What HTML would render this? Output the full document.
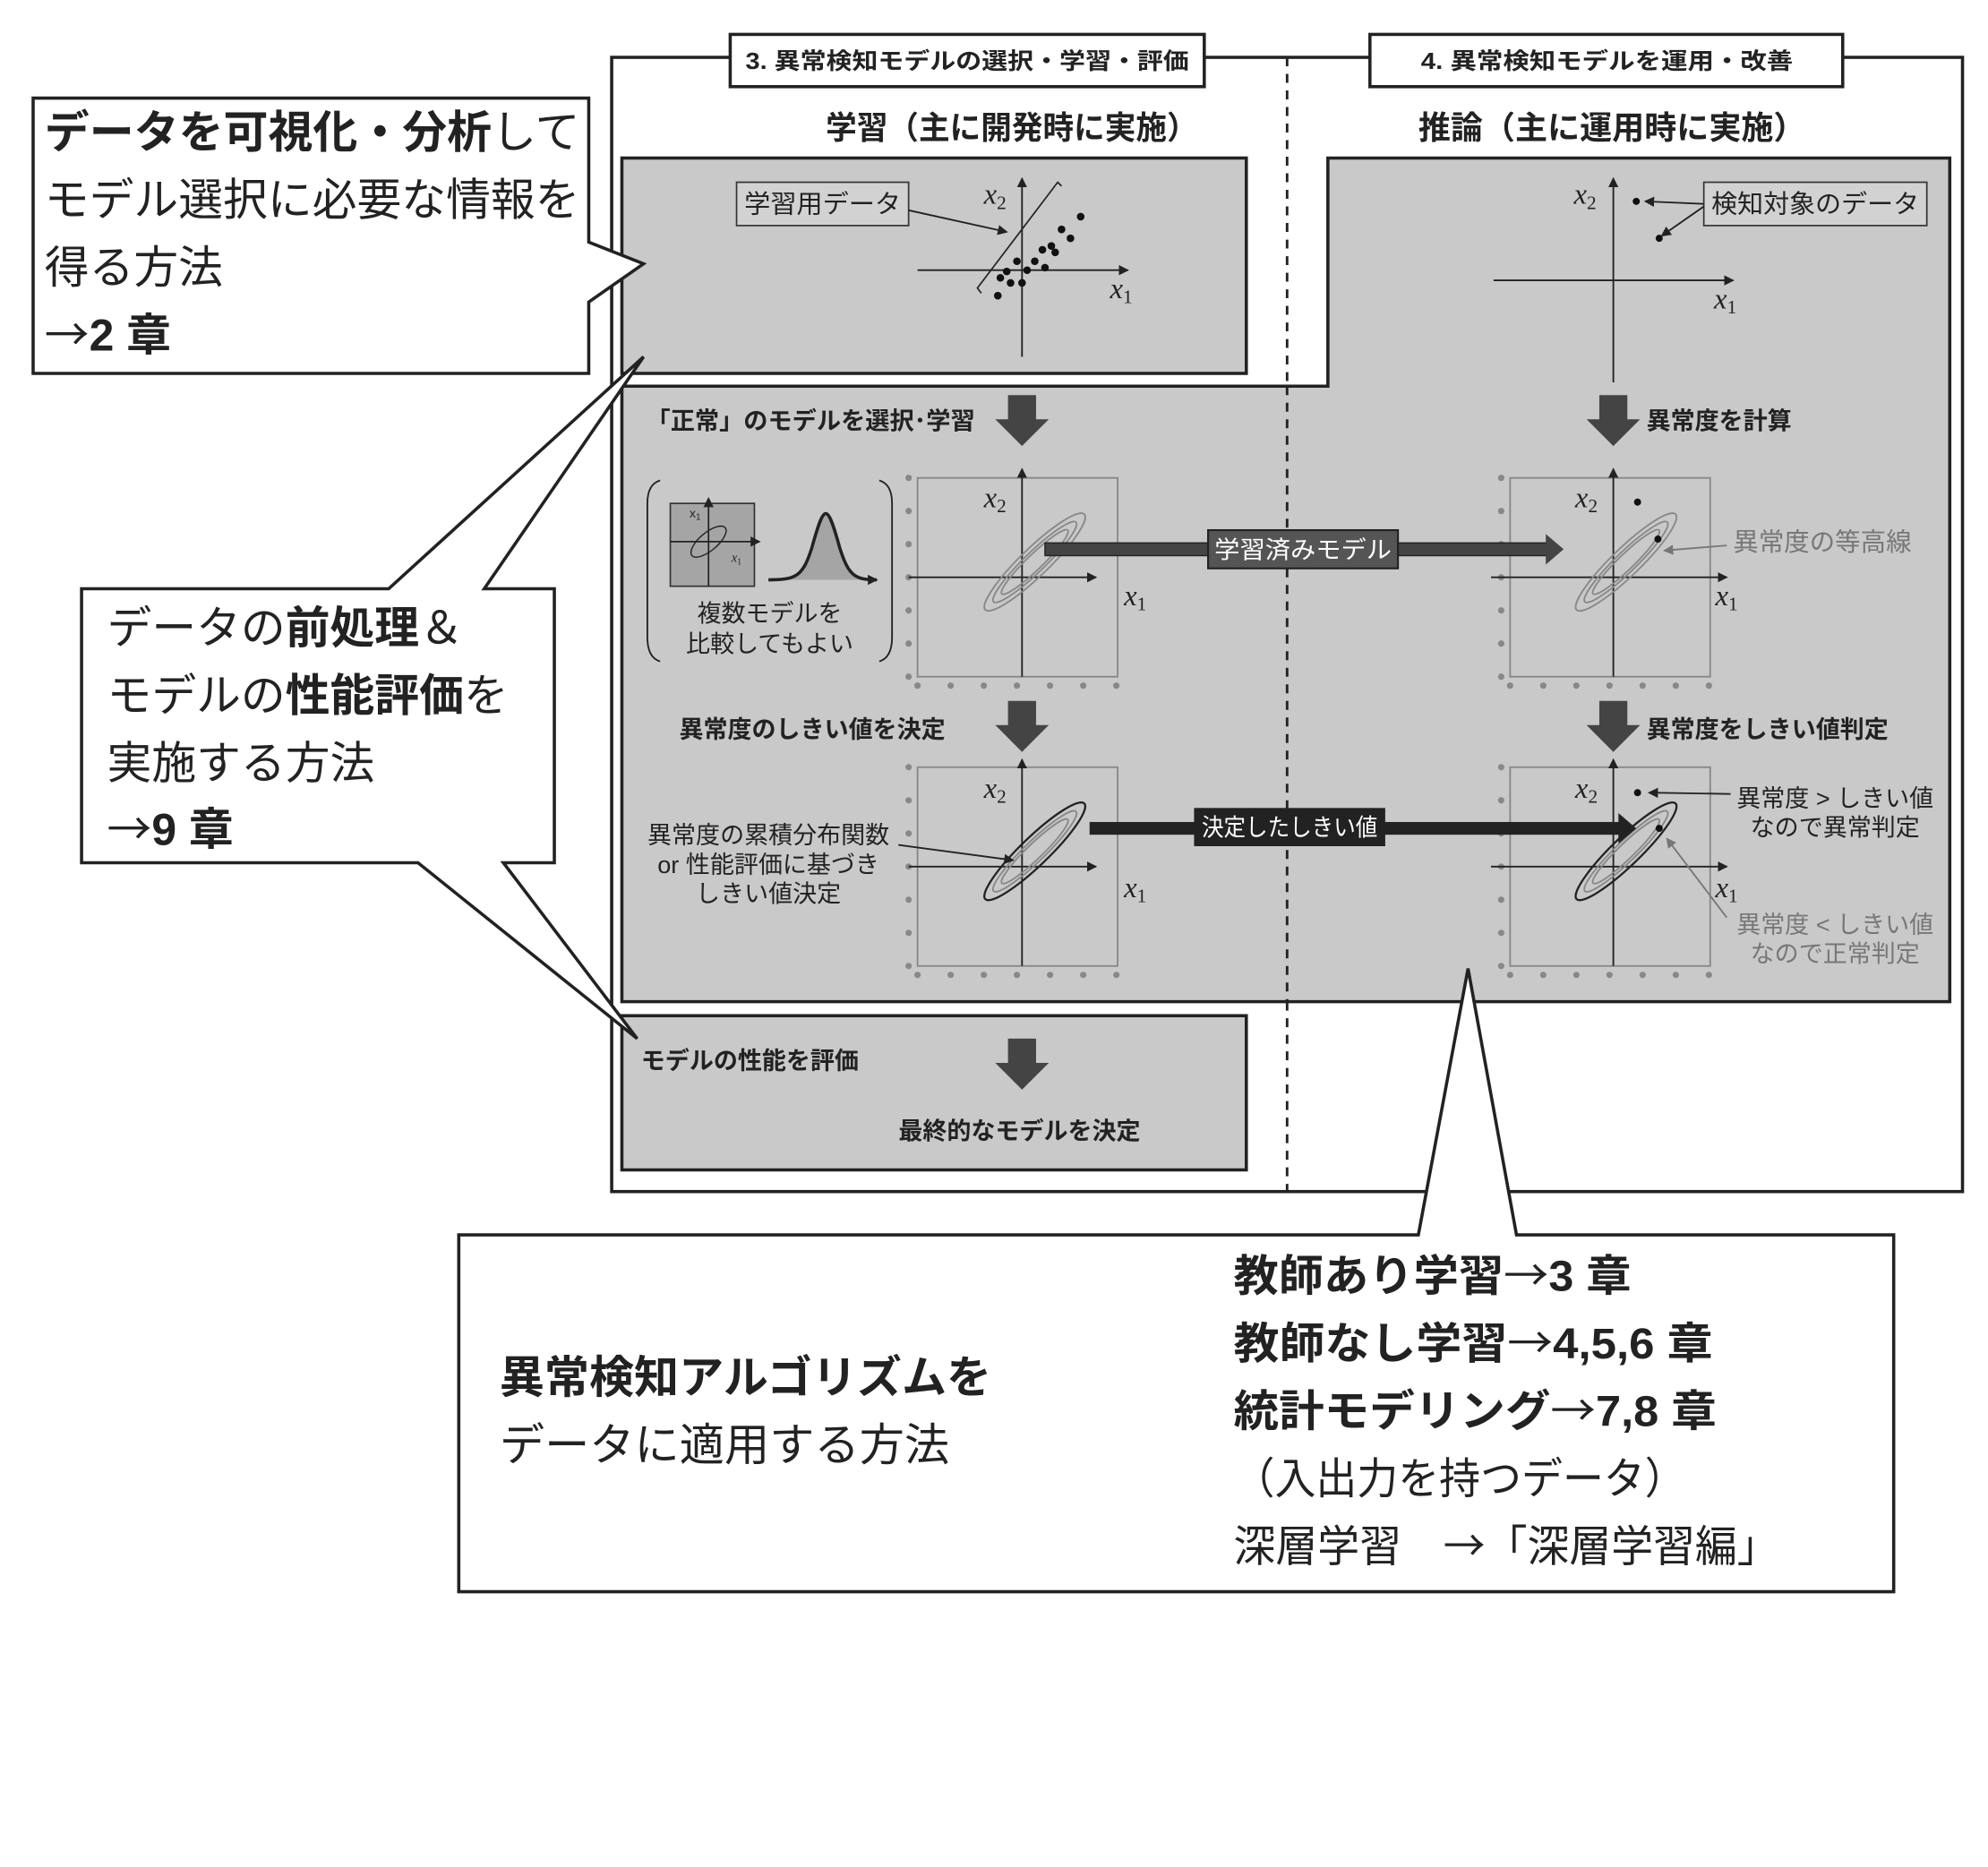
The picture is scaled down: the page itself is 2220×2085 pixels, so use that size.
<!DOCTYPE html>
<html><head><meta charset="utf-8"><style>
html,body{margin:0;padding:0;background:#fff}
svg{display:block}
text{font-family:"Liberation Sans","Noto Sans CJK JP",sans-serif;fill:#222}
.b{font-weight:bold}
.m{font-family:"Liberation Serif","DejaVu Serif",serif;font-style:italic}
.ar{font-family:"Noto Sans CJK JP",sans-serif}
</style></head><body>
<svg width="2220" height="2085" viewBox="0 0 1560 1465" preserveAspectRatio="none" xmlns="http://www.w3.org/2000/svg">
<defs>
<marker id="ah" markerWidth="8" markerHeight="8" refX="7" refY="4" orient="auto" markerUnits="userSpaceOnUse"><path d="M0,0 L8,4 L0,8 z" fill="#222"/></marker>
<marker id="ahg" markerWidth="8" markerHeight="8" refX="7" refY="4" orient="auto" markerUnits="userSpaceOnUse"><path d="M0,0 L8,4 L0,8 z" fill="#777"/></marker>
<g id="dots" fill="#888">
<circle cx="-7" cy="0" r="2.5"/><circle cx="-7" cy="26" r="2.5"/><circle cx="-7" cy="52" r="2.5"/><circle cx="-7" cy="78" r="2.5"/><circle cx="-7" cy="104" r="2.5"/><circle cx="-7" cy="130" r="2.5"/><circle cx="-7" cy="156" r="2.5"/>
<circle cx="0" cy="163" r="2.5"/><circle cx="26" cy="163" r="2.5"/><circle cx="52" cy="163" r="2.5"/><circle cx="78" cy="163" r="2.5"/><circle cx="104" cy="163" r="2.5"/><circle cx="130" cy="163" r="2.5"/><circle cx="156" cy="163" r="2.5"/>
</g>
</defs>

<rect x="480" y="45" width="1060" height="890" fill="#fff" stroke="#222" stroke-width="2.5"/>
<line x1="1010" y1="45" x2="1010" y2="935" stroke="#222" stroke-width="2" stroke-dasharray="7,6"/>
<rect x="573" y="27" width="372" height="41" fill="#fff" stroke="#222" stroke-width="2.5"/>
<text x="585" y="54" font-size="18" class="b" textLength="348" lengthAdjust="spacingAndGlyphs">3. 異常検知モデルの選択・学習・評価</text>
<rect x="1075" y="27" width="371" height="41" fill="#fff" stroke="#222" stroke-width="2.5"/>
<text x="1115" y="54" font-size="18" class="b" textLength="292" lengthAdjust="spacingAndGlyphs">4. 異常検知モデルを運用・改善</text>

<text x="648" y="109" font-size="25" class="b" textLength="292" lengthAdjust="spacingAndGlyphs">学習（主に開発時に実施）</text>
<text x="1113" y="109" font-size="25" class="b" textLength="304" lengthAdjust="spacingAndGlyphs">推論（主に運用時に実施）</text>

<path d="M1042,124 L1530,124 L1530,786 L488,786 L488,303 L1042,303 Z" fill="#c9c9c9" stroke="#222" stroke-width="2.5"/>
<line x1="1010" y1="303" x2="1010" y2="786" stroke="#222" stroke-width="2" stroke-dasharray="7,6"/>
<rect x="488" y="124" width="490" height="169" fill="#c9c9c9" stroke="#222" stroke-width="2.5"/>
<rect x="578" y="143" width="135" height="34" fill="#d2d2d2" stroke="#333" stroke-width="1.2"/>
<text x="584" y="167" font-size="20" textLength="123" lengthAdjust="spacingAndGlyphs">学習用データ</text>
<line x1="713" y1="165" x2="790" y2="182" stroke="#222" stroke-width="1.3" marker-end="url(#ah)"/>
<line x1="720" y1="212" x2="885" y2="212" stroke="#222" stroke-width="1.3" marker-end="url(#ah)"/>
<line x1="802" y1="280" x2="802" y2="140" stroke="#222" stroke-width="1.3" marker-end="url(#ah)"/>
<text x="772" y="160" font-size="23" class="m">x<tspan font-size="15" dy="4" font-style="normal">2</tspan></text>
<text x="871" y="234" font-size="23" class="m">x<tspan font-size="15" dy="4" font-style="normal">1</tspan></text>
<path d="M770,230 L767,226 L830,143 L833,146" fill="none" stroke="#222" stroke-width="1.2"/>
<g fill="#111">
<circle cx="848" cy="170" r="3"/><circle cx="833" cy="180" r="3"/><circle cx="840" cy="187" r="3"/><circle cx="825" cy="193" r="3"/><circle cx="818" cy="196" r="3"/><circle cx="828" cy="198" r="3"/><circle cx="812" cy="205" r="3"/><circle cx="820" cy="210" r="3"/><circle cx="806" cy="212" r="3"/><circle cx="798" cy="205" r="3"/><circle cx="790" cy="213" r="3"/><circle cx="785" cy="218" r="3"/><circle cx="793" cy="222" r="3"/><circle cx="802" cy="222" r="3"/><circle cx="783" cy="232" r="3"/>
</g>

<rect x="488" y="797" width="490" height="121" fill="#c9c9c9" stroke="#222" stroke-width="2.5"/>
<text x="503" y="839" font-size="19" class="b">モデルの性能を評価</text>
<polygon points="791,815 813,815 813,834 823,834 802,855 781,834 791,834" fill="#444"/>
<text x="800" y="894" font-size="19" class="b" text-anchor="middle">最終的なモデルを決定</text>

<text x="507" y="337" font-size="19" class="b" textLength="258" lengthAdjust="spacingAndGlyphs">「正常」のモデルを選択･学習</text>
<polygon points="791,310 813,310 813,329 823,329 802,350 781,329 791,329" fill="#444"/>
<text x="533" y="579" font-size="19" class="b">異常度のしきい値を決定</text>
<polygon points="791,550 813,550 813,569 823,569 802,590 781,569 791,569" fill="#444"/>
<text x="1292" y="337" font-size="19" class="b">異常度を計算</text>
<polygon points="1255,310 1277,310 1277,329 1287,329 1266,350 1245,329 1255,329" fill="#444"/>
<text x="1292" y="579" font-size="19" class="b">異常度をしきい値判定</text>
<polygon points="1255,550 1277,550 1277,569 1287,569 1266,590 1245,569 1255,569" fill="#444"/>

<path d="M518,377 Q508,380 508,395 L508,500 Q508,516 518,519" fill="none" stroke="#222" stroke-width="1.3"/>
<path d="M690,377 Q700,380 700,395 L700,500 Q700,516 690,519" fill="none" stroke="#222" stroke-width="1.3"/>
<rect x="526" y="395" width="66" height="65" fill="#a5a5a5" stroke="#333" stroke-width="1.2"/>
<line x1="526" y1="425" x2="596" y2="425" stroke="#222" stroke-width="1.2" marker-end="url(#ah)"/>
<line x1="556" y1="460" x2="556" y2="391" stroke="#222" stroke-width="1.2" marker-end="url(#ah)"/>
<ellipse cx="556" cy="425" rx="17" ry="7" transform="rotate(-40 556 425)" fill="none" stroke="#222" stroke-width="1"/>
<text x="541" y="406" font-size="10" font-family="Liberation Serif">x<tspan font-size="7" dy="2">1</tspan></text>
<text x="574" y="441" font-size="10" class="m">x<tspan font-size="7" dy="2" font-style="normal">1</tspan></text>
<path d="M603,455 C625,455 630,452 637,430 C642,412 645,403 648,403 C651,403 654,412 659,430 C666,452 671,455 690,455 Z" fill="#a5a5a5"/>
<path d="M603,455 C625,455 630,452 637,430 C642,412 645,403 648,403 C651,403 654,412 659,430 C666,452 671,455 688,455" fill="none" stroke="#222" stroke-width="2.5" marker-end="url(#ah)"/>
<text x="604" y="488" font-size="19" text-anchor="middle">複数モデルを</text>
<text x="604" y="512" font-size="19" text-anchor="middle">比較してもよい</text>

<rect x="720" y="375" width="157" height="156" fill="none" stroke="#888" stroke-width="1.3"/>
<use href="#dots" x="720" y="375"/>
<line x1="713" y1="453" x2="860" y2="453" stroke="#222" stroke-width="1.3" marker-end="url(#ah)"/>
<line x1="802" y1="531" x2="802" y2="368" stroke="#222" stroke-width="1.3" marker-end="url(#ah)"/>
<text x="772" y="398" font-size="23" class="m">x<tspan font-size="15" dy="4" font-style="normal">2</tspan></text>
<text x="882" y="475" font-size="23" class="m">x<tspan font-size="15" dy="4" font-style="normal">1</tspan></text>
<g fill="none" stroke="#888" stroke-width="1.3" transform="rotate(-44 812 441)">
<ellipse cx="812" cy="441" rx="54" ry="11"/><ellipse cx="812" cy="441" rx="45" ry="8"/><ellipse cx="812" cy="441" rx="36" ry="6"/>
</g>

<rect x="1185" y="375" width="157" height="156" fill="none" stroke="#888" stroke-width="1.3"/>
<use href="#dots" x="1185" y="375"/>
<line x1="1170" y1="453" x2="1355" y2="453" stroke="#222" stroke-width="1.3" marker-end="url(#ah)"/>
<line x1="1266" y1="531" x2="1266" y2="368" stroke="#222" stroke-width="1.3" marker-end="url(#ah)"/>
<text x="1236" y="398" font-size="23" class="m">x<tspan font-size="15" dy="4" font-style="normal">2</tspan></text>
<text x="1346" y="475" font-size="23" class="m">x<tspan font-size="15" dy="4" font-style="normal">1</tspan></text>
<g fill="none" stroke="#888" stroke-width="1.3" transform="rotate(-44 1276 441)">
<ellipse cx="1276" cy="441" rx="54" ry="11"/><ellipse cx="1276" cy="441" rx="45" ry="8"/><ellipse cx="1276" cy="441" rx="36" ry="6"/>
</g>
<circle cx="1285" cy="394" r="2.8" fill="#111"/><circle cx="1301" cy="423" r="2.8" fill="#111"/>
<text x="1360" y="432" font-size="20" style="fill:#777">異常度の等高線</text>
<line x1="1355" y1="428" x2="1306" y2="432" stroke="#777" stroke-width="1.3" marker-end="url(#ahg)"/>

<rect x="820" y="426" width="396" height="10" fill="#444" stroke="#222" stroke-width="1"/>
<polygon points="1213,419 1227,431 1213,443" fill="#444"/>
<rect x="948" y="416" width="149" height="30" fill="#555" stroke="#222" stroke-width="1.5"/>
<text x="953" y="438" font-size="19" textLength="139" lengthAdjust="spacingAndGlyphs" style="fill:#fff">学習済みモデル</text>

<rect x="720" y="602" width="157" height="156" fill="none" stroke="#888" stroke-width="1.3"/>
<use href="#dots" x="720" y="602"/>
<line x1="713" y1="680" x2="860" y2="680" stroke="#222" stroke-width="1.3" marker-end="url(#ah)"/>
<line x1="802" y1="758" x2="802" y2="596" stroke="#222" stroke-width="1.3" marker-end="url(#ah)"/>
<text x="772" y="626" font-size="23" class="m">x<tspan font-size="15" dy="4" font-style="normal">2</tspan></text>
<text x="882" y="704" font-size="23" class="m">x<tspan font-size="15" dy="4" font-style="normal">1</tspan></text>
<g fill="none" stroke-width="1.3" transform="rotate(-44 812 668)">
<ellipse cx="812" cy="668" rx="54" ry="11" stroke="#222" stroke-width="1.6"/><ellipse cx="812" cy="668" rx="45" ry="8" stroke="#888"/><ellipse cx="812" cy="668" rx="36" ry="6" stroke="#888"/>
</g>
<text x="603" y="662" font-size="19" text-anchor="middle">異常度の累積分布関数</text>
<text x="603" y="685" font-size="19" text-anchor="middle">or 性能評価に基づき</text>
<text x="603" y="708" font-size="19" text-anchor="middle">しきい値決定</text>
<line x1="705" y1="663" x2="795" y2="675" stroke="#222" stroke-width="1.3" marker-end="url(#ah)"/>

<rect x="1185" y="602" width="157" height="156" fill="none" stroke="#888" stroke-width="1.3"/>
<use href="#dots" x="1185" y="602"/>
<line x1="1170" y1="680" x2="1355" y2="680" stroke="#222" stroke-width="1.3" marker-end="url(#ah)"/>
<line x1="1266" y1="758" x2="1266" y2="596" stroke="#222" stroke-width="1.3" marker-end="url(#ah)"/>
<text x="1236" y="626" font-size="23" class="m">x<tspan font-size="15" dy="4" font-style="normal">2</tspan></text>
<text x="1346" y="704" font-size="23" class="m">x<tspan font-size="15" dy="4" font-style="normal">1</tspan></text>
<g fill="none" stroke-width="1.3" transform="rotate(-44 1276 668)">
<ellipse cx="1276" cy="668" rx="54" ry="11" stroke="#222" stroke-width="1.6"/><ellipse cx="1276" cy="668" rx="45" ry="8" stroke="#888"/><ellipse cx="1276" cy="668" rx="36" ry="6" stroke="#888"/>
</g>
<circle cx="1285" cy="622" r="2.8" fill="#111"/><circle cx="1302" cy="650" r="2.8" fill="#111"/>
<text x="1440" y="633" font-size="19" text-anchor="middle">異常度 &gt; しきい値</text>
<text x="1440" y="656" font-size="19" text-anchor="middle">なので異常判定</text>
<line x1="1358" y1="623" x2="1294" y2="622" stroke="#222" stroke-width="1.3" marker-end="url(#ah)"/>
<text x="1440" y="732" font-size="19" text-anchor="middle" style="fill:#777">異常度 &lt; しきい値</text>
<text x="1440" y="755" font-size="19" text-anchor="middle" style="fill:#777">なので正常判定</text>
<line x1="1355" y1="720" x2="1308" y2="658" stroke="#777" stroke-width="1.3" marker-end="url(#ahg)"/>

<rect x="855" y="645" width="418" height="10" fill="#222"/>
<polygon points="1270,638 1284,650 1270,662" fill="#222"/>
<rect x="937" y="634" width="150" height="30" fill="#222"/>
<text x="943" y="656" font-size="19" textLength="138" lengthAdjust="spacingAndGlyphs" style="fill:#fff">決定したしきい値</text>

<line x1="1172" y1="220" x2="1360" y2="220" stroke="#222" stroke-width="1.3" marker-end="url(#ah)"/>
<line x1="1266" y1="300" x2="1266" y2="140" stroke="#222" stroke-width="1.3" marker-end="url(#ah)"/>
<text x="1235" y="160" font-size="23" class="m">x<tspan font-size="15" dy="4" font-style="normal">2</tspan></text>
<text x="1345" y="242" font-size="23" class="m">x<tspan font-size="15" dy="4" font-style="normal">1</tspan></text>
<circle cx="1284" cy="158" r="2.8" fill="#111"/><circle cx="1302" cy="187" r="2.8" fill="#111"/>
<rect x="1337" y="143" width="175" height="34" fill="#d2d2d2" stroke="#333" stroke-width="1.2"/>
<text x="1343" y="167" font-size="20" textLength="163" lengthAdjust="spacingAndGlyphs">検知対象のデータ</text>
<line x1="1337" y1="160" x2="1291" y2="158" stroke="#222" stroke-width="1.3" marker-end="url(#ah)"/>
<line x1="1337" y1="162" x2="1304" y2="185" stroke="#222" stroke-width="1.3" marker-end="url(#ah)"/>

<path d="M26,77 L462,77 L462,190 L505,207 L462,237 L462,293 L26,293 Z" fill="#fff" stroke="#222" stroke-width="2.5"/>
<text x="35" y="116" font-size="35" textLength="420" lengthAdjust="spacingAndGlyphs"><tspan class="b">データを可視化・分析</tspan>して</text>
<text x="35" y="169" font-size="35" textLength="420" lengthAdjust="spacingAndGlyphs">モデル選択に必要な情報を</text>
<text x="35" y="222" font-size="35">得る方法</text>
<text x="35" y="275" font-size="35" class="b"><tspan class="ar" font-weight="normal">→</tspan>2 章</text>

<path d="M64,462 L305,462 L505,280 L380,462 L435,462 L435,677 L395,677 L500,815 L328,677 L64,677 Z" fill="#fff" stroke="#222" stroke-width="2.5"/>
<text x="84" y="505" font-size="35">データの<tspan class="b">前処理</tspan>＆</text>
<text x="84" y="558" font-size="35">モデルの<tspan class="b">性能評価</tspan>を</text>
<text x="84" y="611" font-size="35">実施する方法</text>
<text x="84" y="663" font-size="35" class="b"><tspan class="ar" font-weight="normal">→</tspan>9 章</text>

<path d="M360,969 L1113,969 L1152,760 L1190,969 L1486,969 L1486,1249 L360,1249 Z" fill="#fff" stroke="#222" stroke-width="2.5"/>
<text x="392" y="1093" font-size="35" class="b" textLength="386" lengthAdjust="spacingAndGlyphs">異常検知アルゴリズムを</text>
<text x="392" y="1146" font-size="35" textLength="353" lengthAdjust="spacingAndGlyphs">データに適用する方法</text>
<text x="968" y="1013" font-size="34" class="b" textLength="312" lengthAdjust="spacingAndGlyphs">教師あり学習<tspan class="ar" font-weight="normal">→</tspan>3 章</text>
<text x="968" y="1066" font-size="34" class="b" textLength="376" lengthAdjust="spacingAndGlyphs">教師なし学習<tspan class="ar" font-weight="normal">→</tspan>4,5,6 章</text>
<text x="968" y="1119" font-size="34" class="b" textLength="379" lengthAdjust="spacingAndGlyphs">統計モデリング<tspan class="ar" font-weight="normal">→</tspan>7,8 章</text>
<text x="968" y="1172" font-size="34" textLength="355" lengthAdjust="spacingAndGlyphs">（入出力を持つデータ）</text>
<text x="968" y="1225" font-size="34" textLength="428" lengthAdjust="spacingAndGlyphs">深層学習　<tspan class="ar">→</tspan>「深層学習編」</text>
</svg>
</body></html>
